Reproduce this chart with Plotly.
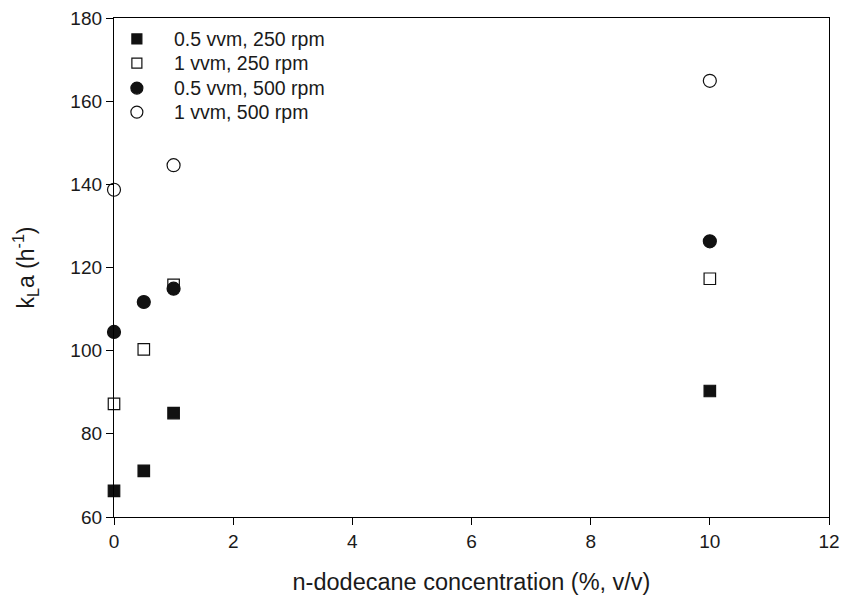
import plotly.graph_objects as go

conc = [0, 0.5, 1, 10]
s1_name = "0.5 vvm, 250 rpm"
s1 = [66.3, 71.1, 85.0, 90.3]
s2_name = "1 vvm, 250 rpm"
s2 = [87.2, 100.3, 115.8, 117.3]
s3_name = "0.5 vvm, 500 rpm"
s3 = [104.5, 111.7, 114.9, 126.3]
s4_name = "1 vvm, 500 rpm"
s4_x = [0, 1, 10]
s4 = [138.7, 144.6, 164.9]

x_ticks = [0, 2, 4, 6, 8, 10, 12]
y_ticks = [60, 80, 100, 120, 140, 160, 180]

font = "Liberation Sans, Arial, sans-serif"
edge = "#111111"
txt = "#1a1a1a"

series = [
    (s1_name, conc, s1, "square", edge),
    (s2_name, conc, s2, "square", "white"),
    (s3_name, conc, s3, "circle", edge),
    (s4_name, s4_x, s4, "circle", "white"),
]

fig = go.Figure()
for name, xs, ys, sym, fill in series:
    size = 11.5 if sym == "square" else 13
    fig.add_trace(go.Scatter(x=xs, y=ys, mode="markers", name=name, showlegend=False,
                             cliponaxis=False,
                             marker=dict(symbol=sym, size=size, color=fill,
                                         line=dict(color=edge, width=1.2))))

# manual legend (symbols + labels) placed in the plot's domain coordinates
leg_x_sym = 0.032
leg_x_txt = 0.081
leg_rows = [0.958, 0.9095, 0.8595, 0.8115]
shapes = []
annotations = []
for (name, xs, ys, sym, fill), ry in zip(series, leg_rows):
    half = 5 if sym == "square" else 6
    shapes.append(dict(type="rect" if sym == "square" else "circle",
                       xref="paper", yref="paper", xsizemode="pixel", ysizemode="pixel",
                       xanchor=leg_x_sym, yanchor=ry, x0=-half, x1=half, y0=-half, y1=half,
                       fillcolor=fill, line=dict(color=edge, width=1.2)))
    annotations.append(dict(text=name, xref="paper", yref="paper", x=leg_x_txt, y=ry,
                            xanchor="left", yanchor="middle", showarrow=False,
                            font=dict(family=font, size=19.5, color=txt)))

axis_common = dict(showline=True, linecolor="black", linewidth=1.3, ticks="outside", ticklen=7,
                   tickwidth=1.2, tickcolor="black", showgrid=False, zeroline=False,
                   automargin=False, ticklabeloverflow="allow",
                   tickfont=dict(family=font, size=19, color=txt), mirror=True)

fig.update_layout(
    width=844, height=589,
    margin=dict(l=106, r=23, t=10, b=80),
    paper_bgcolor="white", plot_bgcolor="white",
    font=dict(family=font, size=19, color=txt),
    showlegend=False,
    shapes=shapes,
    annotations=annotations,
    xaxis=dict(range=[0, 12], tickvals=x_ticks, ticktext=[str(v) for v in x_ticks],
               title=dict(text="n-dodecane concentration (%, v/v)", standoff=22,
                          font=dict(family=font, size=23.5, color=txt)), **axis_common),
    yaxis=dict(range=[60, 180], tickvals=y_ticks, ticktext=[str(v) for v in y_ticks],
               title=dict(text="k<sub>L</sub>a (h<sup>-1</sup>)", standoff=29,
                          font=dict(family=font, size=23, color=txt)), **axis_common),
)

fig.write_html("out.html")
